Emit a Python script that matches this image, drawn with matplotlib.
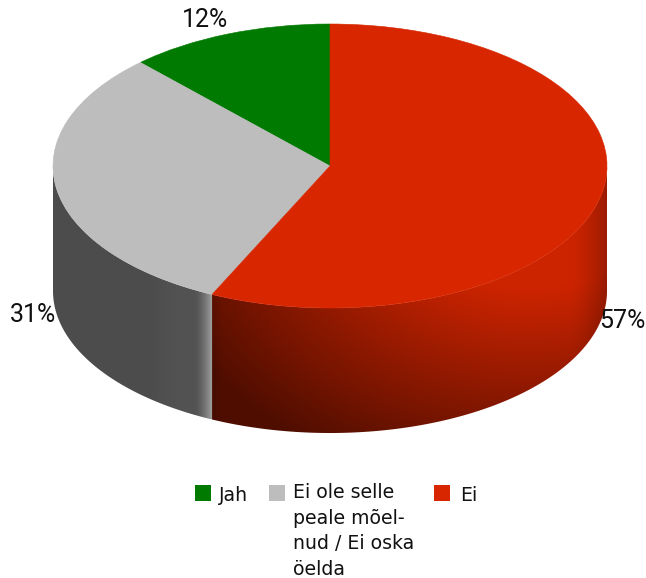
import numpy as np
import matplotlib
matplotlib.use("Agg")
import matplotlib.pyplot as plt
from matplotlib.path import Path
from matplotlib.patches import PathPatch, Rectangle

# Survey shares and their labels
categories = ["Jah", "Ei ole selle\npeale mõel-\nnud / Ei oska\nöelda", "Ei"]
shares = [12, 31, 57]
share_labels = ["12%", "31%", "57%"]
slice_colors = ["#007a00", "#bdbdbd", "#d82600"]

W, H = 646, 578
CX, CY, RX, RY, DEPTH = 330, 166, 277, 142, 125   # disc geometry in pixels

fig = plt.figure(figsize=(W / 100, H / 100), dpi=100, facecolor="white")
ax = fig.add_axes([0, 0, 1, 1])

# Top face: a unit pie, squashed into an ellipse by the axis limits
wedges, _ = ax.pie(shares, colors=slice_colors, startangle=90, counterclock=True, radius=1,
                   wedgeprops=dict(linewidth=0.4, antialiased=True))
for w, c in zip(wedges, slice_colors):
    w.set_edgecolor(c)
    w.set_zorder(5)
ax.set_aspect("auto")
xlim = (-CX / RX, (W - CX) / RX)
ylim = (-(H - CY) / RY, CY / RY)
ax.set_xlim(xlim)
ax.set_ylim(ylim)
ax.axis("off")
depth = DEPTH / RY


def wall_path(a0, a1):
    """Outline of the cylinder wall between two angles in degrees."""
    t = np.radians(np.linspace(a0, a1, 160))
    x, y = np.cos(t), np.sin(t)
    pts = np.r_[np.c_[x, y], np.c_[x[::-1], y[::-1] - depth], [[x[0], y[0]]]]
    return Path(pts, closed=True)


# Pixel grid for the wall shading
px, py = np.meshgrid(np.arange(W) + 0.5, np.arange(H) + 0.5)


def paint_wall(rgb, a0, a1):
    im = ax.imshow(np.clip(rgb, 0, 1), extent=(*xlim, *ylim), origin="upper",
                   aspect="auto", zorder=2, interpolation="bilinear")
    clip = PathPatch(wall_path(a0, a1), transform=ax.transData, facecolor="none", edgecolor="none")
    ax.add_patch(clip)
    im.set_clip_path(clip)


# Cumulative slice angles, anticlockwise from twelve o'clock
edges = 90 + 360 * np.cumsum([0] + shares) / sum(shares)
split = edges[2]
split_x = CX + RX * np.cos(np.radians(split))

# Grey wall: flat dark tone with a bright sliver towards its right end
g = 0.30 + 0.025 * np.clip((px - 150) / 30, 0, 1)
g = g + 0.30 * np.clip((px - (split_x - 17)) / 17, 0, 1) ** 1.5
paint_wall(np.dstack([g, g, g]), 180, split)

# Red wall: radial falloff from the right shoulder, with a darker rim at the far edge
d = np.hypot(px - 530, (py - 200) * 1.35)
r = np.clip(0.75 - (d - 150) * 0.0018, 0.31, 0.80)
rim = 1 - 0.24 * np.clip((px - 570) / 37, 0, 1) ** 1.5
edge = 1 - 0.12 * np.clip((split_x + 10 - px) / 10, 0, 1)
r = r * rim * edge
paint_wall(np.dstack([r, r * 0.175, r * 0.0]), split, 360)

ax.set_xlim(xlim)
ax.set_ylim(ylim)

# Percentage labels
label_px = [(205, 20), (33, 315), (622, 321)]
for text, (lx, ly) in zip(share_labels, label_px):
    ax.text((lx - CX) / RX, (CY - ly) / RY, text, ha="center", va="center", fontsize=18,
            family="Roboto", color="#111111", zorder=6)

# Legend beneath the disc: swatch plus top-aligned, wrapped text
swatch_x = [195, 269, 434]
text_x = [219, 293, 460]
line_step = 24.7
for name, color, sx, tx in zip(categories, slice_colors, swatch_x, text_x):
    fig.add_artist(Rectangle((sx / W, 1 - 501 / H), 16 / W, 16 / H, transform=fig.transFigure,
                             facecolor=color, edgecolor="none"))
    # A multi-line text's baseline anchor sits on its last line
    last_baseline = 501 + line_step * name.count("\n")
    fig.text(tx / W, 1 - last_baseline / H, name, ha="left", va="baseline", fontsize=13.6,
             family="DejaVu Sans", color="#111111", linespacing=1.45)

fig.savefig("out.png", dpi=100, facecolor="white")
